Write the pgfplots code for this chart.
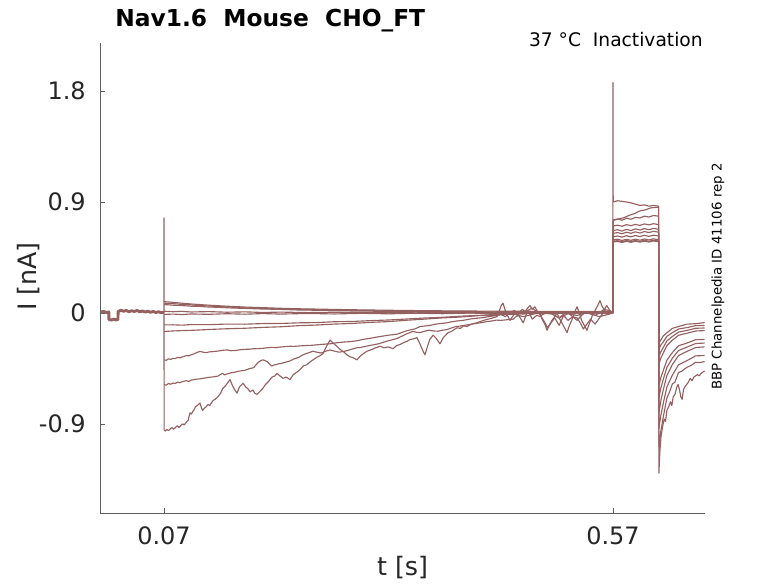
\documentclass[border=0pt]{standalone}
\usepackage{fontspec}
\setmainfont{DejaVu Sans}
\usepackage{pgfplots}
\pgfplotsset{compat=1.18}
\definecolor{trc}{RGB}{148,96,96}
\definecolor{axc}{RGB}{95,95,95}
\definecolor{txc}{RGB}{38,38,38}
\pgfplotsset{tr/.style={color=trc, line width=0.85pt, line join=round, mark=none}}
\begin{document}
\begin{tikzpicture}
\path[use as bounding box] (0,0) rectangle (583.5pt,437.25pt);
\begin{axis}[
 at={(75pt,52.5pt)}, anchor=south west,
 scale only axis, width=453.75pt, height=352.5pt,
 xmin=-0.00127, xmax=0.67245, ymin=-1.622, ymax=2.189,
 axis x line=bottom, axis y line=left,
 axis line style={-, axc, line width=0.6pt},
 tick align=inside, major tick length=3.75pt, tick style={axc, line width=0.6pt},
 xtick={0.07,0.57}, xticklabels={0.07,0.57},
 ytick={-0.9,0,0.9,1.8}, yticklabels={-0.9,0,0.9,1.8},
 ticklabel style={font=\fontsize{18}{18}\selectfont, text=txc},
 xticklabel style={inner sep=0pt, yshift=-10pt},
 yticklabel style={inner sep=0pt, xshift=-10.5pt},
]
% baseline before the step (thick band)
\addplot[tr, line width=2.2pt] coordinates {(0.0,0.008)(0.003,0.012)(0.006,0.004)(0.0085,0.008)(0.0087,-0.052)(0.011,-0.058)(0.014,-0.050)(0.017,-0.056)(0.0187,-0.052)(0.0189,0.012)(0.022,0.022)(0.025,0.014)(0.028,0.020)(0.031,0.010)(0.034,0.018)(0.037,0.012)(0.040,0.020)(0.043,0.010)(0.046,0.016)(0.049,0.008)(0.052,0.014)(0.055,0.006)(0.058,0.012)(0.061,0.004)(0.064,0.010)(0.067,0.002)(0.0699,0.006)};
% capacitive spike at 0.07
\addplot[tr] coordinates {(0.0699,0.006)(0.07,0.77)(0.0701,-0.95)};
% trace A
\addplot[tr] coordinates {(0.0701,0.092)(0.075,0.089)(0.08,0.086)(0.09,0.079)(0.10,0.073)(0.11,0.068)(0.12,0.063)(0.13,0.059)(0.14,0.055)(0.16,0.048)(0.18,0.043)(0.20,0.038)(0.22,0.034)(0.25,0.030)(0.28,0.026)(0.31,0.023)(0.34,0.020)(0.37,0.018)(0.40,0.016)(0.43,0.015)(0.46,0.014)(0.49,0.013)(0.52,0.012)(0.55,0.012)(0.5698,0.011)
(0.5700,1.87)(0.5702,0.90)(0.575,0.91)(0.58,0.905)(0.585,0.90)(0.59,0.893)(0.595,0.882)(0.60,0.872)(0.605,0.876)(0.61,0.866)(0.615,0.872)(0.6208,0.866)
(0.6211,-0.247)(0.623,-0.222)(0.626,-0.186)(0.630,-0.161)(0.636,-0.125)(0.643,-0.110)(0.652,-0.091)(0.662,-0.087)(0.672,-0.078)};
% trace B
\addplot[tr] coordinates {(0.0701,0.080)(0.075,0.077)(0.08,0.076)(0.09,0.069)(0.10,0.066)(0.11,0.059)(0.12,0.057)(0.13,0.051)(0.14,0.049)(0.16,0.041)(0.18,0.038)(0.20,0.031)(0.22,0.030)(0.25,0.024)(0.28,0.022)(0.31,0.017)(0.34,0.016)(0.37,0.012)(0.40,0.012)(0.43,0.009)(0.46,0.010)(0.49,0.007)(0.52,0.008)(0.55,0.006)(0.5698,0.007)
(0.5702,0.75)(0.576,0.762)(0.582,0.772)(0.588,0.792)(0.594,0.806)(0.60,0.828)(0.606,0.836)(0.612,0.852)(0.6208,0.858)
(0.6211,-0.296)(0.623,-0.263)(0.626,-0.234)(0.630,-0.190)(0.636,-0.160)(0.643,-0.130)(0.652,-0.119)(0.662,-0.103)(0.672,-0.102)};
% trace C
\addplot[tr] coordinates {(0.0701,0.068)(0.075,0.066)(0.08,0.063)(0.09,0.060)(0.10,0.055)(0.11,0.053)(0.12,0.048)(0.13,0.046)(0.14,0.042)(0.16,0.037)(0.18,0.032)(0.20,0.029)(0.22,0.024)(0.25,0.021)(0.28,0.016)(0.31,0.014)(0.34,0.010)(0.37,0.009)(0.40,0.006)(0.43,0.006)(0.46,0.003)(0.49,0.004)(0.52,0.002)(0.55,0.003)(0.5698,0.001)
(0.5702,0.755)(0.575,0.762)(0.58,0.752)(0.585,0.768)(0.59,0.760)(0.595,0.775)(0.60,0.770)(0.605,0.785)(0.61,0.778)(0.615,0.790)(0.6208,0.785)
(0.6211,-0.356)(0.623,-0.318)(0.626,-0.279)(0.630,-0.227)(0.636,-0.191)(0.643,-0.155)(0.652,-0.142)(0.662,-0.124)(0.672,-0.122)};
% trace D
\addplot[tr] coordinates {(0.0701,0.014)(0.08,0.010)(0.09,0.013)(0.10,0.008)(0.12,0.011)(0.14,0.006)(0.16,0.009)(0.18,0.004)(0.20,0.007)(0.23,0.003)(0.26,0.006)(0.29,0.002)(0.32,0.005)(0.35,0.001)(0.38,0.004)(0.41,0.0)(0.44,0.003)(0.47,-0.001)(0.50,0.003)(0.53,0.0)(0.5698,0.002)
(0.5702,0.705)(0.575,0.712)(0.58,0.703)(0.585,0.716)(0.59,0.708)(0.595,0.718)(0.60,0.710)(0.605,0.722)(0.61,0.714)(0.615,0.724)(0.6208,0.716)
(0.6211,-0.415)(0.623,-0.370)(0.626,-0.324)(0.630,-0.265)(0.636,-0.221)(0.643,-0.181)(0.652,-0.165)(0.662,-0.146)(0.672,-0.143)};
% trace E
\addplot[tr] coordinates {(0.0701,-0.012)(0.08,-0.009)(0.09,-0.013)(0.10,-0.008)(0.12,-0.011)(0.14,-0.006)(0.16,-0.010)(0.18,-0.005)(0.20,-0.009)(0.23,-0.004)(0.26,-0.008)(0.29,-0.003)(0.32,-0.007)(0.35,-0.002)(0.38,-0.006)(0.41,-0.001)(0.44,-0.005)(0.47,0.0)(0.50,-0.004)(0.53,0.001)(0.5698,-0.002)
(0.5702,0.668)(0.575,0.675)(0.58,0.664)(0.585,0.678)(0.59,0.668)(0.595,0.682)(0.60,0.672)(0.605,0.684)(0.61,0.675)(0.615,0.686)(0.6208,0.678)
(0.6211,-0.593)(0.623,-0.530)(0.626,-0.466)(0.630,-0.383)(0.636,-0.322)(0.643,-0.266)(0.652,-0.245)(0.662,-0.217)(0.672,-0.214)};
% trace F
\addplot[tr] coordinates {(0.0701,-0.097)(0.08,-0.096)(0.09,-0.099)(0.10,-0.094)(0.12,-0.095)(0.14,-0.090)(0.16,-0.091)(0.18,-0.086)(0.20,-0.085)(0.22,-0.080)(0.24,-0.078)(0.26,-0.071)(0.28,-0.069)(0.30,-0.062)(0.32,-0.057)(0.34,-0.049)(0.36,-0.041)(0.38,-0.035)(0.40,-0.026)(0.42,-0.020)(0.44,-0.012)(0.46,-0.010)(0.48,-0.004)(0.50,-0.006)(0.52,0.0)(0.54,-0.003)(0.5698,0.002)
(0.5702,0.645)(0.575,0.652)(0.58,0.642)(0.585,0.655)(0.59,0.646)(0.595,0.658)(0.60,0.648)(0.605,0.660)(0.61,0.652)(0.615,0.662)(0.6208,0.655)
(0.6211,-0.691)(0.623,-0.616)(0.626,-0.538)(0.630,-0.441)(0.636,-0.368)(0.643,-0.304)(0.652,-0.278)(0.662,-0.248)(0.672,-0.244)};
% trace G
\addplot[tr] coordinates {(0.0701,-0.150)(0.08,-0.146)(0.09,-0.143)(0.10,-0.141)(0.12,-0.134)(0.14,-0.128)(0.16,-0.124)(0.18,-0.117)(0.20,-0.112)(0.22,-0.103)(0.24,-0.098)(0.26,-0.090)(0.28,-0.085)(0.30,-0.076)(0.32,-0.070)(0.34,-0.059)(0.36,-0.050)(0.38,-0.040)(0.40,-0.033)(0.42,-0.022)(0.44,-0.018)(0.46,-0.008)(0.47,-0.030)(0.48,-0.012)(0.49,0.010)(0.50,-0.002)(0.51,-0.040)(0.52,-0.006)(0.53,-0.020)(0.54,0.002)(0.555,-0.030)(0.5698,-0.001)
(0.5702,0.618)(0.575,0.624)(0.58,0.615)(0.585,0.626)(0.59,0.617)(0.595,0.628)(0.60,0.619)(0.605,0.630)(0.61,0.621)(0.615,0.631)(0.6208,0.624)
(0.6211,-0.810)(0.623,-0.721)(0.626,-0.622)(0.630,-0.508)(0.636,-0.419)(0.643,-0.345)(0.652,-0.313)(0.662,-0.280)(0.672,-0.275)};
% trace H
\addplot[tr] coordinates {(0.0701,-0.380)(0.0725,-0.384)(0.075,-0.372)(0.0775,-0.376)(0.08,-0.368)(0.0825,-0.370)(0.085,-0.360)(0.0875,-0.364)(0.09,-0.357)(0.0925,-0.352)(0.095,-0.345)(0.0975,-0.348)(0.10,-0.340)(0.1025,-0.334)(0.105,-0.326)(0.1075,-0.318)(0.11,-0.312)(0.1125,-0.316)(0.115,-0.320)(0.1175,-0.322)(0.12,-0.316)(0.125,-0.313)(0.13,-0.309)(0.135,-0.303)(0.14,-0.300)(0.145,-0.306)(0.15,-0.304)(0.155,-0.298)(0.16,-0.295)(0.165,-0.294)(0.17,-0.290)(0.175,-0.289)(0.18,-0.287)(0.185,-0.282)(0.19,-0.279)(0.195,-0.280)(0.20,-0.276)(0.205,-0.273)(0.21,-0.270)(0.215,-0.271)(0.22,-0.268)(0.228,-0.264)(0.235,-0.262)(0.245,-0.255)(0.255,-0.250)(0.262,-0.242)(0.27,-0.236)(0.278,-0.232)(0.285,-0.225)(0.292,-0.214)(0.30,-0.205)(0.305,-0.198)(0.31,-0.192)(0.315,-0.186)(0.32,-0.180)(0.325,-0.176)(0.33,-0.171)(0.335,-0.158)(0.34,-0.145)(0.345,-0.136)(0.35,-0.128)(0.355,-0.110)(0.36,-0.106)(0.365,-0.102)(0.37,-0.095)(0.375,-0.088)(0.38,-0.084)(0.385,-0.080)(0.39,-0.072)(0.395,-0.066)(0.403,-0.060)(0.41,-0.050)(0.415,-0.045)(0.42,-0.042)(0.425,-0.038)(0.433,-0.028)(0.441,-0.020)(0.445,-0.010)(0.45,-0.03)(0.455,0.00)(0.46,0.02)(0.465,0.00)(0.47,-0.01)(0.475,0.02)(0.48,0.04)(0.485,0.01)(0.49,-0.02)(0.495,0.00)(0.50,0.01)(0.505,-0.02)(0.51,-0.04)(0.515,-0.01)(0.52,0.0)(0.525,-0.03)(0.53,-0.06)(0.535,-0.02)(0.54,0.01)(0.545,0.00)(0.55,-0.02)(0.555,0.00)(0.56,0.03)(0.565,0.02)(0.5698,0.01)
(0.5702,0.592)(0.575,0.598)(0.58,0.588)(0.585,0.597)(0.59,0.589)(0.595,0.599)(0.60,0.590)(0.605,0.600)(0.61,0.592)(0.615,0.601)(0.6208,0.594)
(0.6211,-0.938)(0.623,-0.840)(0.626,-0.731)(0.630,-0.600)(0.636,-0.505)(0.643,-0.420)(0.652,-0.388)(0.662,-0.348)(0.672,-0.345)};
% trace I
\addplot[tr] coordinates {(0.0701,-0.580)(0.0725,-0.586)(0.075,-0.572)(0.0775,-0.578)(0.08,-0.568)(0.0825,-0.572)(0.085,-0.561)(0.0875,-0.566)(0.09,-0.558)(0.0925,-0.553)(0.095,-0.549)(0.0975,-0.555)(0.10,-0.545)(0.105,-0.538)(0.11,-0.534)(0.115,-0.528)(0.12,-0.522)(0.125,-0.518)(0.13,-0.512)(0.1325,-0.500)(0.135,-0.490)(0.1375,-0.502)(0.14,-0.495)(0.145,-0.485)(0.15,-0.478)(0.155,-0.470)(0.16,-0.465)(0.165,-0.452)(0.17,-0.443)(0.1725,-0.420)(0.175,-0.400)(0.1775,-0.388)(0.18,-0.380)(0.1825,-0.386)(0.185,-0.395)(0.1875,-0.415)(0.19,-0.430)(0.1925,-0.422)(0.195,-0.418)(0.1975,-0.412)(0.20,-0.410)(0.205,-0.400)(0.21,-0.390)(0.215,-0.372)(0.22,-0.360)(0.225,-0.338)(0.23,-0.325)(0.236,-0.310)(0.24,-0.318)(0.245,-0.325)(0.25,-0.310)(0.255,-0.300)(0.26,-0.310)(0.265,-0.318)(0.27,-0.312)(0.274,-0.305)(0.28,-0.292)(0.285,-0.282)(0.29,-0.278)(0.295,-0.270)(0.30,-0.262)(0.305,-0.256)(0.31,-0.248)(0.315,-0.236)(0.32,-0.225)(0.325,-0.216)(0.33,-0.205)(0.335,-0.188)(0.34,-0.170)(0.3435,-0.160)(0.347,-0.150)(0.351,-0.156)(0.355,-0.160)(0.36,-0.148)(0.365,-0.140)(0.37,-0.146)(0.375,-0.148)(0.38,-0.140)(0.385,-0.135)(0.39,-0.122)(0.395,-0.110)(0.40,-0.106)(0.405,-0.100)(0.41,-0.094)(0.415,-0.088)(0.422,-0.080)(0.428,-0.072)(0.435,-0.065)(0.44,-0.058)(0.445,-0.060)(0.452,-0.055)(0.459,-0.050)(0.462,-0.030)(0.465,-0.02)(0.4675,-0.05)(0.47,-0.08)(0.4725,-0.03)(0.475,0.02)(0.4775,-0.01)(0.48,-0.05)(0.485,-0.02)(0.49,-0.03)(0.4935,-0.07)(0.497,-0.12)(0.501,-0.08)(0.505,-0.04)(0.5075,-0.07)(0.51,-0.10)(0.5125,-0.06)(0.515,-0.02)(0.5175,-0.04)(0.52,-0.06)(0.525,-0.03)(0.53,-0.04)(0.5335,-0.08)(0.537,-0.13)(0.541,-0.09)(0.545,-0.05)(0.5475,-0.07)(0.55,-0.09)(0.554,-0.05)(0.558,-0.01)(0.5605,0.03)(0.563,0.06)(0.5665,0.02)(0.5698,0.0)
(0.5702,0.582)(0.575,0.586)(0.58,0.578)(0.585,0.587)(0.59,0.579)(0.595,0.588)(0.60,0.580)(0.605,0.589)(0.61,0.581)(0.615,0.590)(0.6208,0.583)
(0.6211,-1.086)(0.623,-0.970)(0.626,-0.842)(0.630,-0.690)(0.633,-0.640)(0.636,-0.577)(0.639,-0.560)(0.643,-0.482)(0.646,-0.475)(0.652,-0.442)(0.657,-0.425)(0.662,-0.400)(0.667,-0.402)(0.672,-0.394)};
% trace J
\addplot[tr] coordinates {(0.0701,-0.950)(0.0715,-0.958)(0.073,-0.944)(0.0745,-0.952)(0.076,-0.948)(0.0775,-0.936)(0.079,-0.930)(0.0805,-0.942)(0.082,-0.935)(0.0835,-0.922)(0.085,-0.915)(0.0865,-0.928)(0.088,-0.920)(0.0895,-0.905)(0.091,-0.900)(0.0925,-0.908)(0.094,-0.895)(0.0955,-0.880)(0.097,-0.870)(0.098,-0.835)(0.099,-0.810)(0.1005,-0.820)(0.102,-0.800)(0.1035,-0.785)(0.105,-0.760)(0.1075,-0.748)(0.110,-0.730)(0.1115,-0.765)(0.113,-0.790)(0.115,-0.772)(0.117,-0.760)(0.119,-0.742)(0.121,-0.750)(0.1246,-0.710)(0.127,-0.700)(0.130,-0.680)(0.133,-0.650)(0.1357,-0.610)(0.1385,-0.590)(0.141,-0.565)(0.1435,-0.540)(0.146,-0.585)(0.1485,-0.620)(0.1513,-0.650)(0.154,-0.600)(0.158,-0.570)(0.161,-0.600)(0.1635,-0.615)(0.1658,-0.640)(0.169,-0.625)(0.171,-0.650)(0.1736,-0.660)(0.177,-0.635)(0.1802,-0.610)(0.183,-0.580)(0.1865,-0.555)(0.1903,-0.520)(0.1935,-0.510)(0.1958,-0.490)(0.199,-0.510)(0.2025,-0.530)(0.206,-0.520)(0.2103,-0.540)(0.214,-0.500)(0.218,-0.480)(0.2214,-0.460)(0.225,-0.430)(0.229,-0.420)(0.233,-0.395)(0.236,-0.380)(0.240,-0.360)(0.244,-0.345)(0.247,-0.330)(0.251,-0.270)(0.2549,-0.220)(0.2585,-0.245)(0.2626,-0.270)(0.266,-0.295)(0.270,-0.315)(0.2738,-0.340)(0.277,-0.355)(0.281,-0.365)(0.2849,-0.380)(0.2885,-0.350)(0.292,-0.330)(0.2961,-0.310)(0.300,-0.300)(0.305,-0.285)(0.3105,-0.270)(0.315,-0.282)(0.320,-0.275)(0.325,-0.290)(0.329,-0.265)(0.333,-0.255)(0.337,-0.240)(0.3406,-0.230)(0.344,-0.215)(0.348,-0.210)(0.3517,-0.200)(0.355,-0.250)(0.3585,-0.310)(0.3606,-0.340)(0.363,-0.280)(0.366,-0.215)(0.3696,-0.180)(0.373,-0.205)(0.3773,-0.250)(0.381,-0.200)(0.3863,-0.160)(0.390,-0.150)(0.393,-0.135)(0.3963,-0.120)(0.400,-0.125)(0.4035,-0.105)(0.4074,-0.110)(0.411,-0.095)(0.415,-0.085)(0.4185,-0.080)(0.4219,-0.070)(0.426,-0.060)(0.430,-0.052)(0.434,-0.045)(0.437,-0.038)(0.4408,-0.030)(0.443,0.010)(0.4455,0.060)(0.4475,0.080)(0.450,0.020)(0.4525,-0.020)(0.4553,-0.060)(0.458,-0.030)(0.461,0.000)(0.4635,-0.020)(0.4664,0.010)(0.469,0.030)(0.472,0.010)(0.475,0.040)(0.4776,0.060)(0.480,0.030)(0.483,0.050)(0.486,0.010)(0.4887,-0.010)(0.491,-0.050)(0.494,-0.090)(0.4965,-0.140)(0.499,-0.100)(0.502,-0.060)(0.505,-0.030)(0.5076,0.000)(0.510,-0.040)(0.513,-0.080)(0.516,-0.120)(0.5188,-0.160)(0.521,-0.110)(0.524,-0.060)(0.527,0.000)(0.5299,0.050)(0.532,0.010)(0.535,-0.060)(0.538,-0.100)(0.541,-0.140)(0.544,-0.080)(0.547,-0.020)(0.550,0.020)(0.553,0.060)(0.5555,0.100)(0.558,0.050)(0.561,0.020)(0.5635,-0.010)(0.5666,0.000)(0.5698,0.010)
(0.5702,0.576)(0.575,0.580)(0.58,0.572)(0.585,0.581)(0.59,0.573)(0.595,0.582)(0.60,0.574)(0.605,0.583)(0.61,0.575)(0.615,0.584)(0.6208,0.577)
(0.6211,-1.300)(0.6222,-1.120)(0.6235,-1.000)(0.625,-0.930)(0.627,-0.860)(0.6285,-0.880)(0.630,-0.790)(0.632,-0.760)(0.634,-0.720)(0.6355,-0.750)(0.637,-0.680)(0.639,-0.660)(0.641,-0.600)(0.6425,-0.580)(0.644,-0.620)(0.6455,-0.680)(0.647,-0.700)(0.6485,-0.620)(0.650,-0.600)(0.652,-0.580)(0.654,-0.560)(0.656,-0.530)(0.658,-0.550)(0.660,-0.520)(0.662,-0.510)(0.664,-0.500)(0.666,-0.510)(0.668,-0.490)(0.670,-0.480)(0.672,-0.470)};
\end{axis}
\node[anchor=base west, inner sep=0pt, font=\bfseries\fontsize{17.5}{18}\selectfont, text=black] at (86.25pt,417pt) {Nav1.6~~Mouse~~CHO\_FT};
\node[anchor=base east, inner sep=0pt, font=\fontsize{14}{14}\selectfont, text=black] at (527.25pt,402pt) {37~°C~~Inactivation};
\node[rotate=90, inner sep=0pt, font=\fontsize{10}{10}\selectfont, text=black] at (538.5pt,229.9pt) {BBP Channelpedia ID 41106 rep 2};
\node[anchor=base, inner sep=0pt, font=\fontsize{19}{19}\selectfont, text=txc] at (301.9pt,5.5pt) {t [s]};
\node[rotate=90, inner sep=0pt, font=\fontsize{19}{19}\selectfont, text=txc] at (21.4pt,229.9pt) {I [nA]};
\end{tikzpicture}
\end{document}
